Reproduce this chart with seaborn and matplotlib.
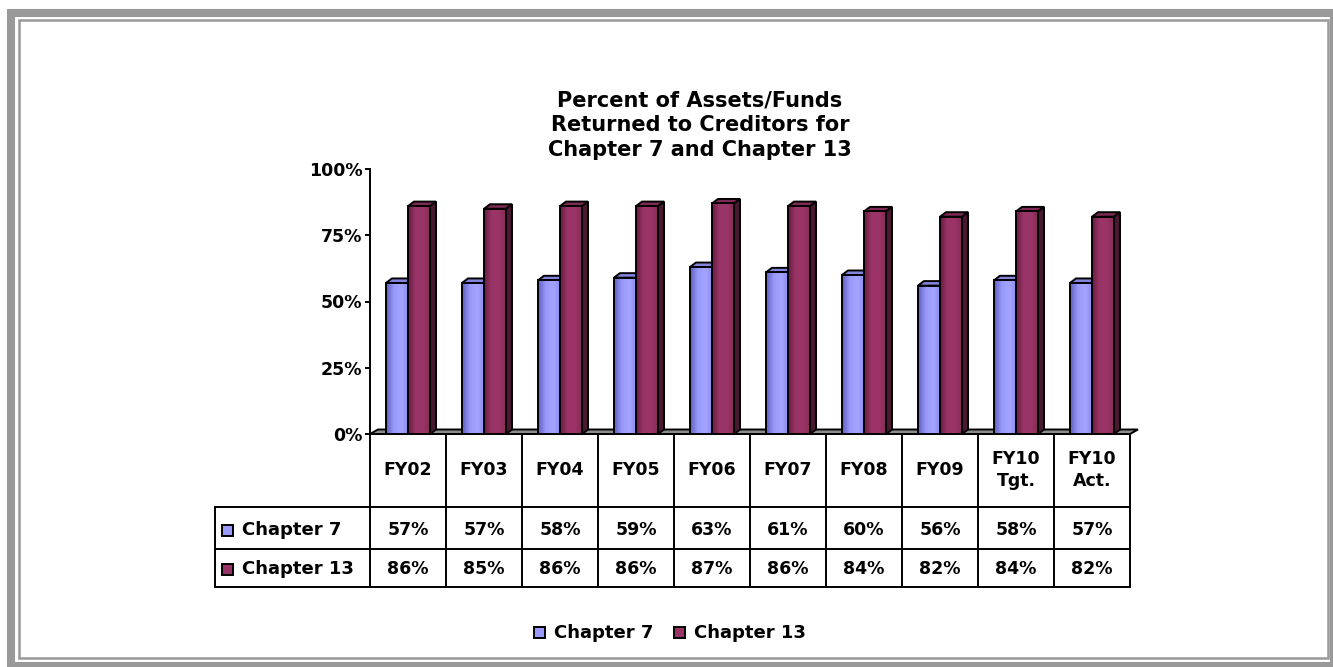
import numpy as np
import pandas as pd
import matplotlib
matplotlib.use("Agg")
import matplotlib.pyplot as plt
import seaborn as sns
from matplotlib.patches import Polygon, Rectangle
from matplotlib.colors import LinearSegmentedColormap

# ---------------- data ----------------
categories = ["FY02", "FY03", "FY04", "FY05", "FY06", "FY07", "FY08", "FY09",
              "FY10\nTgt.", "FY10\nAct."]
chapter7 = [57, 57, 58, 59, 63, 61, 60, 56, 58, 57]
chapter13 = [86, 85, 86, 86, 87, 86, 84, 82, 84, 82]
series_names = ["Chapter 7", "Chapter 13"]
yticks = [0, 25, 50, 75, 100]
title = "Percent of Assets/Funds\nReturned to Creditors for\nChapter 7 and Chapter 13"

# ---------------- style ----------------
BLUE = "#9999FF"
RED = "#993366"
BLUE_TOP = "#8585E0"
RED_TOP = "#7D2A55"
BLUE_SIDE = "#5A5AB0"
RED_SIDE = "#4A1830"
FLOOR = "#8C8C8C"
FRAME = "#999999"

sns.set_theme(style="white")
plt.rcParams["font.family"] = ["DejaVu Sans"]
plt.rcParams["text.color"] = "black"
plt.rcParams["axes.labelcolor"] = "black"
plt.rcParams["xtick.color"] = "black"
plt.rcParams["ytick.color"] = "black"

W, H = 1333, 667
fig = plt.figure(figsize=(W / 100, H / 100), dpi=100)
fig.patch.set_facecolor("white")


def fx(px):
    return px / W


def fy(py):
    return 1 - py / H


# overlay axes in pixel coordinates (frame, title, table, legend)
ov = fig.add_axes([0, 0, 1, 1], zorder=0)
ov.set_xlim(0, W)
ov.set_ylim(H, 0)
ov.axis("off")

# chart axes
X0, X1, Y0, Y1 = 370, 1130, 434, 169
ax = fig.add_axes([fx(X0), fy(Y0), fx(X1) - fx(X0), fy(Y1) - fy(Y0)], zorder=1)
ax.patch.set_alpha(0)

EW = 1.4

df = pd.DataFrame({
    "cat": categories * 2,
    "series": [series_names[0]] * len(categories) + [series_names[1]] * len(categories),
    "val": chapter7 + chapter13,
})
sns.barplot(data=df, x="cat", y="val", hue="series", hue_order=series_names,
            palette=[BLUE, RED], saturation=1, width=0.58, edgecolor="black",
            linewidth=EW, legend=False, ax=ax, zorder=4)

ncat = len(categories)
ax.set_xlim(-0.5, ncat - 0.5)
ax.set_ylim(0, 100)

px_per_x = (X1 - X0) / ncat
px_per_y = (Y0 - Y1) / 100.0
ddx = 6 / px_per_x
ddy = 4.5 / px_per_y

cmaps = {
    0: LinearSegmentedColormap.from_list("b", ["#5E5EC0", "#9898FA", "#A4A4FF", "#8A8AEE"]),
    1: LinearSegmentedColormap.from_list("r", ["#661C42", "#9B3568", "#9A3467", "#822A56"]),
}
tops = {0: BLUE_TOP, 1: RED_TOP}
sides = {0: BLUE_SIDE, 1: RED_SIDE}
grad = np.linspace(0, 1, 64).reshape(1, -1)

for si, cont in enumerate(ax.containers):
    for p in cont.patches:
        x, w, h = p.get_x(), p.get_width(), p.get_height()
        ax.add_patch(Polygon([(x, h), (x + w, h), (x + w + ddx, h + ddy), (x + ddx, h + ddy)],
                             closed=True, facecolor=tops[si], edgecolor="black",
                             linewidth=EW, zorder=2, clip_on=False))
        ax.add_patch(Polygon([(x + w, 0), (x + w + ddx, ddy), (x + w + ddx, h + ddy), (x + w, h)],
                             closed=True, facecolor=sides[si], edgecolor="black",
                             linewidth=EW, zorder=2, clip_on=False))
        im = ax.imshow(grad, cmap=cmaps[si], extent=[x, x + w, 0, h], aspect="auto",
                       zorder=3, interpolation="bicubic")
        im.set_clip_path(p)
        p.set_facecolor("none")

# floor
fdx = 8 / px_per_x
fdy = 4.5 / px_per_y
ax.add_patch(Polygon([(-0.5, 0), (ncat - 0.5, 0), (ncat - 0.5 + fdx, fdy), (-0.5 + fdx, fdy)],
                     closed=True, facecolor=FLOOR, edgecolor="black", linewidth=EW,
                     zorder=1, clip_on=False))

ax.set_xlim(-0.5, ncat - 0.5)
ax.set_ylim(0, 100)
ax.set_xticks([])
ax.set_yticks(yticks)
ax.set_yticklabels([f"{v}%" for v in yticks], fontsize=12.5, fontweight="bold")
ax.tick_params(axis="y", direction="out", length=3.6, width=EW, color="black", pad=2,
               left=True, labelcolor="black")
ax.set_xlabel("")
ax.set_ylabel("")
for s in ["top", "right", "bottom"]:
    ax.spines[s].set_visible(False)
ax.spines["left"].set_color("black")
ax.spines["left"].set_linewidth(EW)

# ---------------- frame ----------------
ov.add_patch(Rectangle((11, 12.5), 1334 - 11, 666 - 12.5, facecolor="none",
                       edgecolor=FRAME, linewidth=5.8))
ov.add_patch(Rectangle((19, 20), 1328 - 19, 658 - 20, facecolor="none",
                       edgecolor=FRAME, linewidth=1.8))

# ---------------- title ----------------
ov.text(700, 125, title, ha="center", va="center", fontsize=15, fontweight="bold",
        linespacing=1.3, color="black")

# ---------------- data table ----------------
TL, TH, R1, TB = 215, 507, 549, 587
colx = [X0 + px_per_x * k for k in range(ncat + 1)]
for xv in colx:
    ov.plot([xv, xv], [Y0, TB], color="black", linewidth=EW, solid_capstyle="projecting")
ov.plot([TL, TL], [TH, TB], color="black", linewidth=EW, solid_capstyle="projecting")
ov.plot([X0, X1], [Y0, Y0], color="black", linewidth=EW)
for yv in [TH, R1, TB]:
    ov.plot([TL, X1], [yv, yv], color="black", linewidth=EW, solid_capstyle="projecting")

for k, c in enumerate(categories):
    cx = X0 + px_per_x * (k + 0.5)
    ov.text(cx, 470, c, ha="center", va="center", fontsize=12.5, fontweight="bold",
            linespacing=1.3, color="black")
    ov.text(cx, 530, f"{chapter7[k]}%", ha="center", va="center", fontsize=12.5,
            fontweight="bold", color="black")
    ov.text(cx, 569, f"{chapter13[k]}%", ha="center", va="center", fontsize=12.5,
            fontweight="bold", color="black")

for yv, name, col in [(530, series_names[0], BLUE), (569, series_names[1], RED)]:
    ov.add_patch(Rectangle((222, yv - 5.5), 11, 11, facecolor=col, edgecolor="black",
                           linewidth=EW))
    ov.text(242, yv, name, ha="left", va="center", fontsize=13, fontweight="bold",
            color="black")

# ---------------- legend ----------------
for xs, name, col in [(534, series_names[0], BLUE), (674, series_names[1], RED)]:
    ov.add_patch(Rectangle((xs, 627), 11, 11, facecolor=col, edgecolor="black",
                           linewidth=EW))
    ov.text(xs + 20, 632.5, name, ha="left", va="center", fontsize=13, fontweight="bold",
            color="black")

fig.savefig("out.png", dpi=100)
